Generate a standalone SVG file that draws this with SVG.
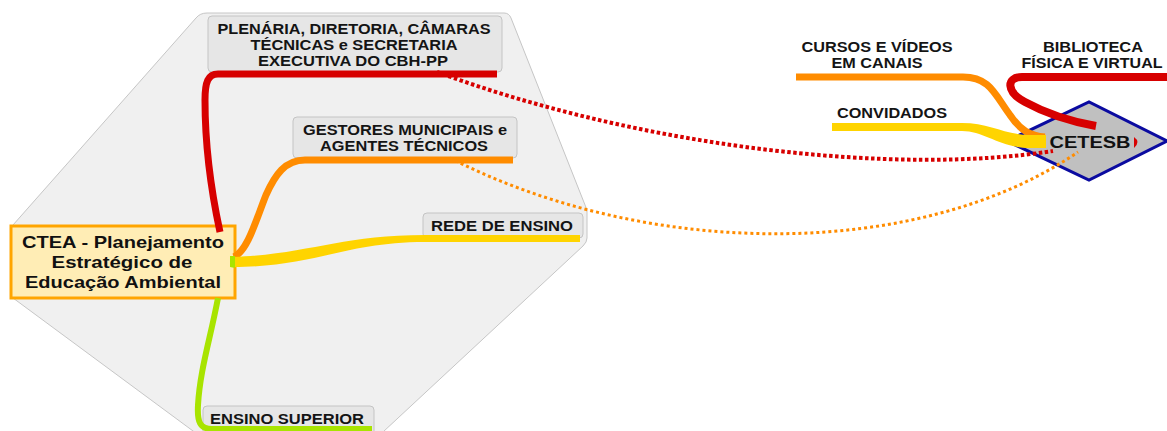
<svg xmlns="http://www.w3.org/2000/svg" width="1167" height="431" viewBox="0 0 1167 431">
<defs>
<style>
.bg{fill:#f0f0f0;stroke:#c6c6c6;stroke-width:1}
.box{fill:#e6e6e6;stroke:#c4c4c4;stroke-width:1}
.t{font-family:"Liberation Sans",Arial,sans-serif;font-weight:bold;font-size:14px;fill:#141414;text-anchor:middle}
.tc{font-family:"Liberation Sans",Arial,sans-serif;font-weight:bold;font-size:17px;fill:#111;text-anchor:middle}
.br{fill:none;stroke-linecap:butt;stroke-linejoin:round}
.red{stroke:#d70000}
.org{stroke:#ff8c00}
.grn{stroke:#a8e400}
.dotr{fill:none;stroke:#d70000;stroke-width:4;stroke-dasharray:3.5 2.5}
.doto{fill:none;stroke:#ff8c00;stroke-width:3;stroke-dasharray:3 3}
</style>
</defs>
<path class="bg" d="M13,225 L196,18 Q200,13 207,13 L504,13 Q509,13 511,18 L587,210 L587,238 Q587,242 583,246 L369,445 L212,445 L13,298 Z"/>

<g id="node-cetesb">
<polygon points="1007,141 1089,102 1167,141 1089,180" fill="#c0c0c0" stroke="#0a0aa0" stroke-width="3" stroke-linejoin="miter"/>
<text class="tc" x="1090" y="148" font-size="19" textLength="81" lengthAdjust="spacingAndGlyphs">CETESB</text>
</g>

<g id="node-ctea">
<rect x="11" y="226" width="224" height="72" fill="#ffedb5" stroke="#ffa500" stroke-width="3"/>
<text class="tc" x="123" y="248" textLength="202" lengthAdjust="spacingAndGlyphs">CTEA - Planejamento</text>
<text class="tc" x="122" y="268" textLength="141" lengthAdjust="spacingAndGlyphs">Estratégico de</text>
<text class="tc" x="123" y="288" textLength="196" lengthAdjust="spacingAndGlyphs">Educação Ambiental</text>
</g>

<g id="node-plenaria">
<rect class="box" x="208" y="16" width="294" height="56" rx="4"/>
<text class="t" x="354" y="34" textLength="273" lengthAdjust="spacingAndGlyphs">PLENÁRIA, DIRETORIA, CÂMARAS</text>
<text class="t" x="354" y="50" textLength="207" lengthAdjust="spacingAndGlyphs">TÉCNICAS e SECRETARIA</text>
<text class="t" x="353" y="66" textLength="190" lengthAdjust="spacingAndGlyphs">EXECUTIVA DO CBH-PP</text>
</g>

<g id="node-gestores">
<rect class="box" x="293" y="117" width="224" height="41" rx="4"/>
<text class="t" x="405" y="135" textLength="204" lengthAdjust="spacingAndGlyphs">GESTORES MUNICIPAIS e</text>
<text class="t" x="404" y="151" textLength="168" lengthAdjust="spacingAndGlyphs">AGENTES TÉCNICOS</text>
</g>

<g id="node-rede">
<rect class="box" x="423" y="213" width="160" height="25" rx="4"/>
<text class="t" x="502" y="231" textLength="142" lengthAdjust="spacingAndGlyphs">REDE DE ENSINO</text>
</g>

<g id="node-superior">
<rect class="box" x="203" y="406" width="171" height="30" rx="4"/>
<text class="t" x="287" y="424" textLength="154" lengthAdjust="spacingAndGlyphs">ENSINO SUPERIOR</text>
</g>

<g id="node-cursos">
<text class="t" x="877" y="52" textLength="151" lengthAdjust="spacingAndGlyphs">CURSOS E VÍDEOS</text>
<text class="t" x="877" y="68" textLength="91" lengthAdjust="spacingAndGlyphs">EM CANAIS</text>
</g>

<g id="node-convidados">
<text class="t" x="892" y="118" textLength="110" lengthAdjust="spacingAndGlyphs">CONVIDADOS</text>
</g>

<g id="node-biblioteca">
<text class="t" x="1093" y="52" textLength="100" lengthAdjust="spacingAndGlyphs">BIBLIOTECA</text>
<text class="t" x="1092" y="68" textLength="141" lengthAdjust="spacingAndGlyphs">FÍSICA E VIRTUAL</text>
</g>

<g id="connectors">
<path class="br red" stroke-width="7" d="M497,74 L218,74 C208,74 205,82 205,100 C205,150 212,195 220,232"/>
<path class="br org" stroke-width="7" d="M513,160 L305,160 C285,160 275,175 266,195 C256,220 248,250 234,257"/>
<path fill="#ffd400" d="M233,257 C310,254 340,235 425,235 L580,235 L580,242 L425,242 C345,242 315,267 233,267 Z"/>
<path class="br grn" stroke-width="6" d="M218,298 C210,340 200,370 198,405 C197,422 200,429 212,429 L372,429"/>
<path fill="#a8e400" d="M230,256 L235,256 L235,268 L230,267 Z"/>

<path class="br org" stroke-width="7" d="M796,77 L963,77 C990,77 995,95 1010,115 C1020,130 1030,136 1045,137"/>
<path fill="#ffd400" d="M832,123 L962,123 C990,123 1005,135 1030,135 L1046,135 L1046,148 L1030,148 C1000,148 985,131 962,131 L832,131 Z"/>
<path class="br red" stroke-width="8" d="M1167,77 L1022,77 C1006,77 1006,92 1025,102 C1045,113 1068,121 1096,126"/>
<path fill="#d70000" d="M1134,137 Q1141,142 1134,148 Z"/>

<path class="dotr" d="M437,72 C650,150 900,175 1053,151"/>
<path class="doto" d="M450,158 C650,260 920,260 1078,152"/>
</g>
</svg>
